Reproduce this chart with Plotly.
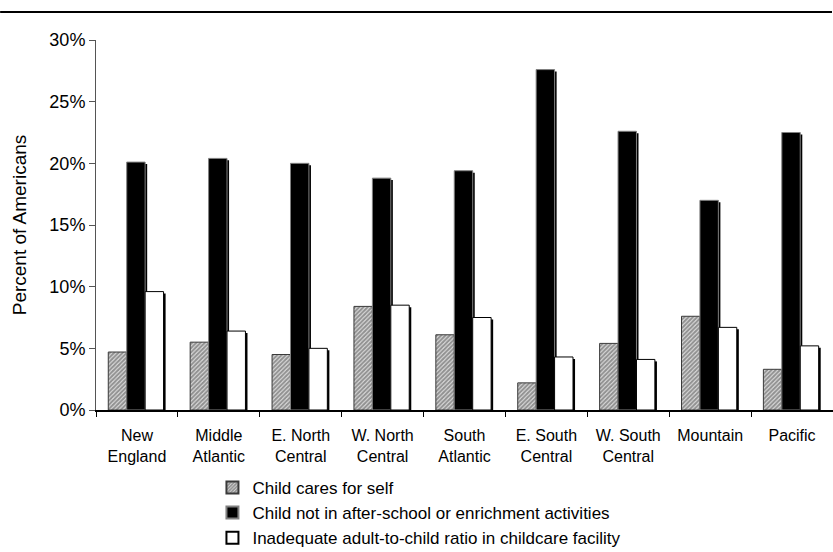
import plotly.graph_objects as go

# Census divisions and the share of Americans reporting each childcare concern (%)
regions = ["New<br>England", "Middle<br>Atlantic", "E. North<br>Central", "W. North<br>Central",
           "South<br>Atlantic", "E. South<br>Central", "W. South<br>Central", "Mountain", "Pacific"]
cares_for_self = [4.7, 5.5, 4.5, 8.4, 6.1, 2.2, 5.4, 7.6, 3.3]
no_activities = [20.1, 20.4, 20.0, 18.8, 19.4, 27.6, 22.6, 17.0, 22.5]
inadequate_ratio = [9.6, 6.4, 5.0, 8.5, 7.5, 4.3, 4.1, 6.7, 5.2]
y_ticks = [0, 5, 10, 15, 20, 25, 30]

FONT = "Arial, Liberation Sans, sans-serif"
BAR_W = 0.225
OFFSETS = [-0.35, -0.125, 0.10]
SHADOW_DX = 0.025   # drop shadow shift to the right (category units)
SHADOW_DY = 0.16    # drop shadow shift downward (percent units)

series = [
    dict(name="Child cares for self", y=cares_for_self,
         marker=dict(color="white", line=dict(color="#3a3a3a", width=1),
                     pattern=dict(shape="/", size=3, solidity=0.7,
                                  fgcolor="#3c3c3c", bgcolor="#e8e8e8"))),
    dict(name="Child not in after-school or enrichment activities", y=no_activities,
         marker=dict(color="black", line=dict(color="#808080", width=1))),
    dict(name="Inadequate adult-to-child ratio in childcare facility", y=inadequate_ratio,
         marker=dict(color="white", line=dict(color="black", width=1))),
]

fig = go.Figure()

# shadows first so the bars sit on top of them
for s, off in zip(series, OFFSETS):
    fig.add_trace(go.Bar(
        x=regions, y=[v - SHADOW_DY for v in s["y"]], width=BAR_W, offset=off + SHADOW_DX,
        marker=dict(color="black", line=dict(width=0)), showlegend=False, hoverinfo="skip"))

for s, off in zip(series, OFFSETS):
    fig.add_trace(go.Bar(x=regions, y=s["y"], name=s["name"], width=BAR_W, offset=off,
                         marker=s["marker"]))

fig.update_layout(
    width=833, height=552,
    barmode="overlay",
    paper_bgcolor="white", plot_bgcolor="white",
    margin=dict(l=96, r=0, t=40, b=142, autoexpand=False),
    font=dict(family=FONT, size=17, color="black"),
    showlegend=True,
    legend=dict(orientation="v", x=0.158, xanchor="left", y=-0.162, yanchor="top",
                font=dict(family=FONT, size=17, color="black"),
                itemsizing="constant", tracegroupgap=0, bgcolor="rgba(0,0,0,0)"),
    xaxis=dict(showline=True, linecolor="black", linewidth=1.5,
               ticks="outside", tickson="boundaries", ticklen=5, tickcolor="black",
               ticklabelstandoff=10,
               tickfont=dict(family=FONT, size=16), showgrid=False, zeroline=False),
    yaxis=dict(range=[0, 30], tickvals=y_ticks, ticktext=[f"{t}%" for t in y_ticks],
               showline=True, linecolor="#555555", linewidth=1,
               ticks="outside", ticklen=6, tickcolor="#555555",
               tickfont=dict(family=FONT, size=18), showgrid=False, zeroline=False,
               title=dict(text="Percent of Americans", font=dict(family=FONT, size=19),
                          standoff=17)),
    shapes=[dict(type="line", xref="paper", yref="paper",
                 x0=-96 / 738, x1=737 / 738, y0=398 / 370, y1=398 / 370,
                 line=dict(color="black", width=2))],
)

fig.write_html("out.html")
